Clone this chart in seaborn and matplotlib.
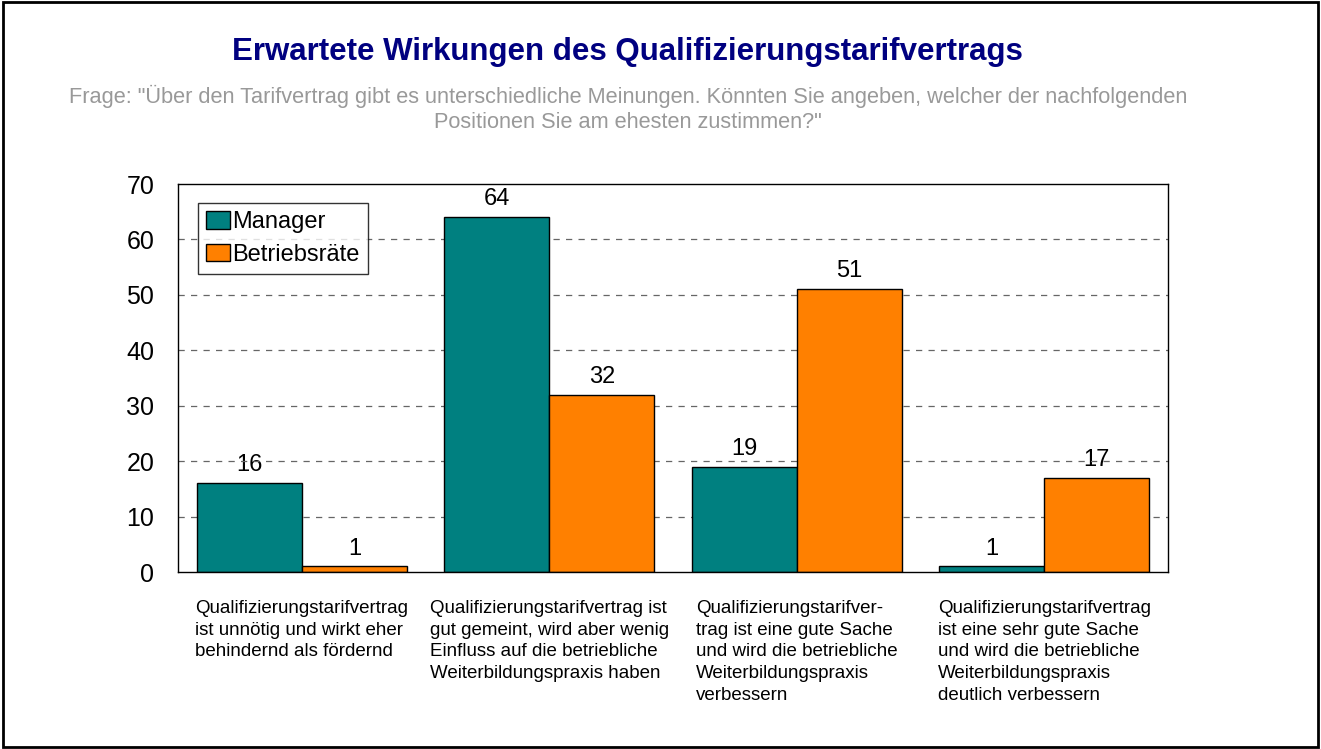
import matplotlib
matplotlib.use("Agg")
import matplotlib.pyplot as plt
import matplotlib.transforms as mtransforms
from matplotlib.patches import Rectangle
import seaborn as sns
import pandas as pd

categories = [
    "Qualifizierungstarifvertrag\nist unnötig und wirkt eher\nbehindernd als fördernd",
    "Qualifizierungstarifvertrag ist\ngut gemeint, wird aber wenig\nEinfluss auf die betriebliche\nWeiterbildungspraxis haben",
    "Qualifizierungstarifver-\ntrag ist eine gute Sache\nund wird die betriebliche\nWeiterbildungspraxis\nverbessern",
    "Qualifizierungstarifvertrag\nist eine sehr gute Sache\nund wird die betriebliche\nWeiterbildungspraxis\ndeutlich verbessern",
]
series_names = ["Manager", "Betriebsräte"]
manager = [16, 64, 19, 1]
betriebsraete = [1, 32, 51, 17]
yticks = [0, 10, 20, 30, 40, 50, 60, 70]

title = "Erwartete Wirkungen des Qualifizierungstarifvertrags"
subtitle = ("Frage: \"Über den Tarifvertrag gibt es unterschiedliche Meinungen. Könnten Sie angeben, welcher der nachfolgenden\n"
            "Positionen Sie am ehesten zustimmen?\"")

cat_ids = [f"c{i}" for i in range(len(categories))]
df = pd.DataFrame({
    "Kategorie": cat_ids * 2,
    "Gruppe": [series_names[0]] * 4 + [series_names[1]] * 4,
    "Wert": manager + betriebsraete,
})

sns.set_style("white")
plt.rcParams["font.family"] = ["Liberation Sans", "DejaVu Sans"]
plt.rcParams["text.color"] = "black"
plt.rcParams["axes.labelcolor"] = "black"
plt.rcParams["xtick.color"] = "black"
plt.rcParams["ytick.color"] = "black"

fig = plt.figure(figsize=(13.21, 7.49), dpi=100)
ax = fig.add_axes([178 / 1321, 177 / 749, 990 / 1321, 388 / 749])

sns.barplot(data=df, x="Kategorie", y="Wert", hue="Gruppe", order=cat_ids,
            hue_order=series_names, palette=["#008080", "#FF8000"],
            saturation=1, width=0.85, edgecolor="black", linewidth=1.0,
            ax=ax, zorder=2)

for cont in ax.containers:
    ax.bar_label(cont, fmt="%d", fontsize=17, padding=5, zorder=1, color="black")

ax.set_ylim(0, 70)
ax.set_xlim(-0.5, 3.5)
ax.set_yticks(yticks)
ax.set_yticklabels([str(v) for v in yticks], fontsize=18)
ax.set_xticks([])
ax.set_xlabel("")
ax.set_ylabel("")
for y in yticks[1:-1]:
    ax.axhline(y, color="#666666", linestyle=(0, (5, 5)), linewidth=0.9, zorder=1.5)
for s in ax.spines.values():
    s.set_visible(True)
    s.set_color("black")
    s.set_linewidth(1.0)
ax.tick_params(axis="y", length=0, pad=17, left=True)

trans = mtransforms.blended_transform_factory(ax.transData, ax.transAxes)
for i, lab in enumerate(categories):
    ax.text(i, -0.072, lab, transform=trans, ha="center", va="top",
            multialignment="left", fontsize=13.5, linespacing=1.36, color="black")

leg = ax.legend(loc="upper left", bbox_to_anchor=(20 / 990, 1 - 19 / 388), fontsize=17,
                frameon=True, fancybox=False, edgecolor="black",
                handlelength=1.0, handleheight=0.75, handletextpad=0.1,
                borderpad=0.35, labelspacing=0.45, borderaxespad=0.0)
leg.get_frame().set_linewidth(1.0)
leg.set_title(None)

fig.text(627 / 1321, 1 - 52 / 749, title, ha="center", va="center",
         fontsize=22.5, fontweight="bold", color="#000080")
fig.text(628 / 1321, 1 - 109 / 749, subtitle, ha="center", va="center",
         fontsize=15.7, color="#999999", linespacing=1.25)

fig.patches.append(Rectangle((0.002, 0.003), 0.996, 0.994, transform=fig.transFigure,
                             fill=False, edgecolor="black", linewidth=2))

fig.savefig("out.png", dpi=100)
